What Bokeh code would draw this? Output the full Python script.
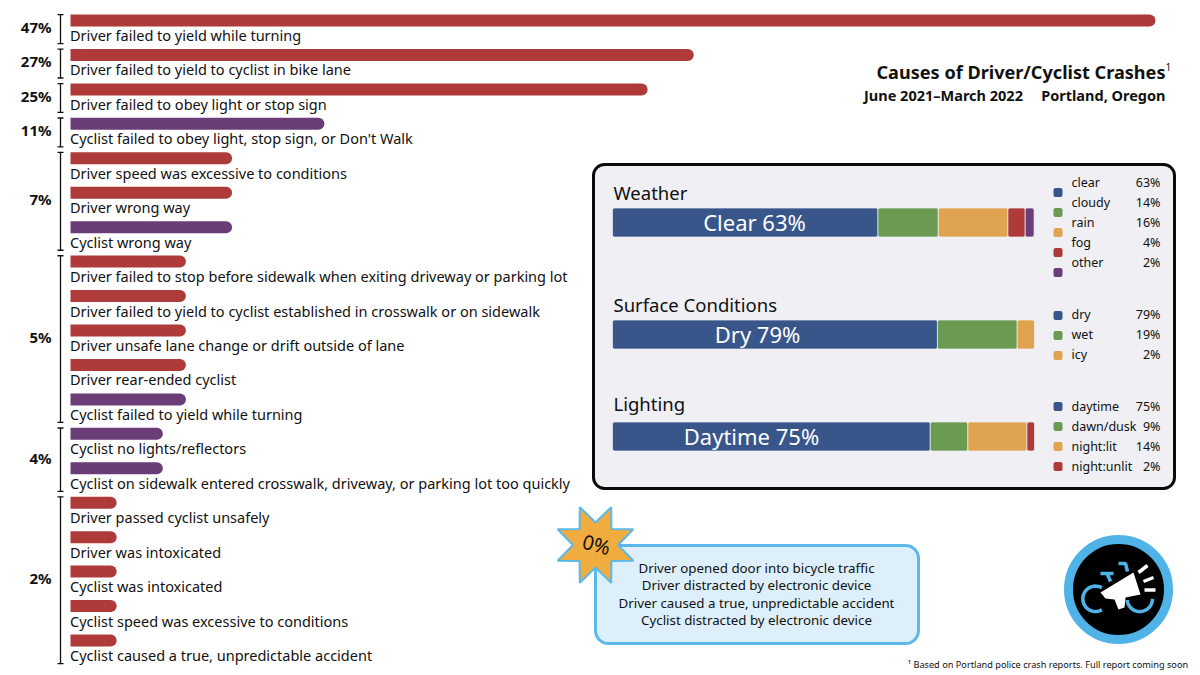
import numpy as np
from bokeh.plotting import figure
from bokeh.models import Range1d, ColumnDataSource
from bokeh.core.properties import value
from bokeh.embed import file_html
from bokeh.resources import INLINE

FONT = "Noto Sans"

# ---------- data ----------
causes = [
    "Driver failed to yield while turning",
    "Driver failed to yield to cyclist in bike lane",
    "Driver failed to obey light or stop sign",
    "Cyclist failed to obey light, stop sign, or Don't Walk",
    "Driver speed was excessive to conditions",
    "Driver wrong way",
    "Cyclist wrong way",
    "Driver failed to stop before sidewalk when exiting driveway or parking lot",
    "Driver failed to yield to cyclist established in crosswalk or on sidewalk",
    "Driver unsafe lane change or drift outside of lane",
    "Driver rear-ended cyclist",
    "Cyclist failed to yield while turning",
    "Cyclist no lights/reflectors",
    "Cyclist on sidewalk entered crosswalk, driveway, or parking lot too quickly",
    "Driver passed cyclist unsafely",
    "Driver was intoxicated",
    "Cyclist was intoxicated",
    "Cyclist speed was excessive to conditions",
    "Cyclist caused a true, unpredictable accident",
]
cause_pct = [47, 27, 25, 11, 7, 7, 7, 5, 5, 5, 5, 5, 4, 4, 2, 2, 2, 2, 2]
cause_actor = ["d", "d", "d", "c", "d", "d", "c", "d", "d", "d", "d", "c", "c", "c", "d", "d", "d", "d", "d"]
group_pct = [47, 27, 25, 11, 7, 5, 4, 2]

weather_names = ["clear", "cloudy", "rain", "fog", "other"]
weather_vals = [63, 14, 16, 4, 2]
weather_drawn = [62.9, 14.3, 16.5, 4.1, 2.1]   # segment lengths as drawn in the stacked bar
surface_names = ["dry", "wet", "icy"]
surface_vals = [79, 19, 2]
surface_drawn = [77.0, 18.9, 4.1]
lighting_names = ["daytime", "dawn/dusk", "night:lit", "night:unlit"]
lighting_vals = [75, 9, 14, 2]
lighting_drawn = [75.3, 8.9, 14.0, 1.8]

zero_causes = [
    "Driver opened door into bicycle traffic",
    "Driver distracted by electronic device",
    "Driver caused a true, unpredictable accident",
    "Cyclist distracted by electronic device",
]

# ---------- colours ----------
RED, PURPLE, BLUE, GREEN, ORANGE = "#AE3A3A", "#6A3D78", "#38568A", "#6B9A52", "#E0A450"
SEG = [BLUE, GREEN, ORANGE, RED, PURPLE]
INK = "#111111"
SKY = "#4FB3E8"

W, H = 1200, 675
p = figure(width=W, height=H, x_range=Range1d(0, W), y_range=Range1d(H, 0),
           output_backend="svg", toolbar_location=None, min_border=0,
           outline_line_color=None, background_fill_color="white", border_fill_color="white")
p.xaxis.visible = False
p.yaxis.visible = False
p.grid.visible = False


def px_range(px0, px1, v0, v1, lo, hi):
    """Data range whose v0,v1 fall on pixels px0,px1 of a canvas spanning lo..hi."""
    k = (v1 - v0) / (px1 - px0)
    return Range1d(v0 + (lo - px0) * k, v0 + (hi - px0) * k)


p.extra_x_ranges = {
    "pct": px_range(70, 1155, 0, 47, 0, W),
    "share": px_range(612, 1034, 0, 100, 0, W),
}
p.extra_y_ranges = {"row": px_range(20, 640, 0, 18, H, 0)}


def txt(x, y, s, size, color=INK, align="left", bold=False, angle=0.0, baseline="middle", **kw):
    p.text(x=[x], y=[y], text=[s], text_font=value(FONT), text_font_size=f"{size}px",
           text_color=color, text_align=align, text_baseline=baseline,
           text_font_style="bold" if bold else "normal", angle=angle, **kw)


# ---------- main bars ----------
rows = np.arange(len(causes))
bar_cols = [RED if a == "d" else PURPLE for a in cause_actor]
src = ColumnDataSource(dict(y=rows, right=cause_pct, color=bar_cols, label=causes,
                            ly=rows + 0.42))
p.hbar(y="y", left=0, right="right", height=12 / 34.44, fill_color="color", line_color=None,
       border_radius=(0, 6, 6, 0), source=src, x_range_name="pct", y_range_name="row")
p.text(x=69.5, y="ly", text="label", source=src, y_range_name="row", text_font=value(FONT),
       text_font_size="14.5px", text_color=INK, text_baseline="middle")

# ---------- brackets by group ----------
first = 0
for g in group_pct:
    n = cause_pct.count(g)
    top, bottom = first - 0.17, first + n - 1 + 0.67
    p.segment(x0=[60], x1=[60], y0=[top], y1=[bottom], line_color=INK, line_width=1.3,
              y_range_name="row")
    p.segment(x0=[57, 57], x1=[63, 63], y0=[top, bottom], y1=[top, bottom], line_color=INK,
              line_width=1.3, y_range_name="row")
    txt(51, (top + bottom) / 2 - 0.06, f"{g}%", 15, align="right", bold=True, y_range_name="row")
    first += n

# ---------- title ----------
txt(1165, 71, "Causes of Driver/Cyclist Crashes", 18.1, align="right", bold=True)
txt(1165, 66, "1", 10)
txt(1165, 94.5, "June 2021–March 2022\u2003 Portland, Oregon", 14.5, align="right", bold=True)
txt(1190, 664, "¹ Based on Portland police crash reports.  Full report coming soon", 9.2, align="right")

# ---------- panel ----------
p.quad(left=[593], right=[1174], top=[164], bottom=[488], fill_color="#EFEFF4", line_color="#0a0a0a",
       line_width=3, border_radius=11)

panels = [
    ("Weather", "Clear 63%", 754, weather_names, weather_vals, weather_drawn, 192, 222, 192, 182),
    ("Surface Conditions", "Dry 79%", 757, surface_names, surface_vals, surface_drawn, 304, 334, 315, 314),
    ("Lighting", "Daytime 75%", 751, lighting_names, lighting_vals, lighting_drawn, 403, 436, 406, 406),
]
for title, big, bx, names, vals, drawn, ty, by, sq0, lb0 in panels:
    txt(613, ty, title, 18.5)
    cum = np.cumsum([0] + drawn)
    p.quad(left=cum[:-1], right=cum[1:], top=by - 14.5, bottom=by + 14.5, fill_color=SEG[:len(vals)],
           line_color="#EFEFF4", line_width=0.7, border_radius=2, x_range_name="share")
    txt(bx, by - 1, big, 22, color="white", align="center")
    for i, (nm, v) in enumerate(zip(names, vals)):
        p.quad(left=[1053], right=[1062], top=[sq0 + 20 * i - 4.5], bottom=[sq0 + 20 * i + 4.5],
               fill_color=SEG[i], line_color=None, border_radius=2)
        txt(1071, lb0 + 20 * i, nm, 12.5)
        txt(1160, lb0 + 20 * i, f"{v}%", 12.5, align="right")

# ---------- 0% callout ----------
p.quad(left=[595], right=[918], top=[545], bottom=[643], fill_color="#DDEFFA", line_color="#5BB8E8",
       line_width=3, border_radius=13)
ang = np.deg2rad(np.arange(16) * 22.5)
rad = np.where(np.arange(16) % 2 == 0, 22.5, 41)
p.patch(595 + rad * np.cos(ang), 544.5 + rad * np.sin(ang), fill_color="#F0AC3E", line_color="#5BB8E8",
        line_width=2)
txt(596, 544, "0%", 20, angle=-0.27, align="center")
for i, s in enumerate(zero_causes):
    txt(756, 567 + 17.5 * i, s, 13.3, align="center")

# ---------- logo ----------
p.circle(x=[1118], y=[589], radius=50, fill_color="black", line_color=SKY, line_width=9)
wheel_l = np.deg2rad(np.linspace(-60, -300, 40))
wheel_r = np.deg2rad(np.linspace(175, 0, 30))
p.line(1095 + 12.7 * np.cos(wheel_l), 598.3 + 12.7 * np.sin(wheel_l), line_color=SKY, line_width=3.5)
p.line(1139.3 + 12.7 * np.cos(wheel_r), 598.3 + 12.7 * np.sin(wheel_r), line_color=SKY, line_width=3.5)
p.line([1100, 1113], [573, 573], line_color=SKY, line_width=3.5)
p.line([1107, 1110], [574, 581], line_color=SKY, line_width=3.5)
p.line([1118, 1125, 1127], [563, 563, 571], line_color=SKY, line_width=3.5)
p.patch([1100, 1133, 1140, 1125, 1124, 1118, 1114, 1105],
        [592, 572, 594, 597, 607, 609, 599, 598], fill_color="white", line_color=None)
p.segment(x0=[1138, 1143, 1144], x1=[1147, 1153, 1155], y0=[572, 581, 589.5], y1=[565, 577, 589.5],
          line_color="white", line_width=3.5)

open("out.html", "w").write(file_html(p, INLINE))
